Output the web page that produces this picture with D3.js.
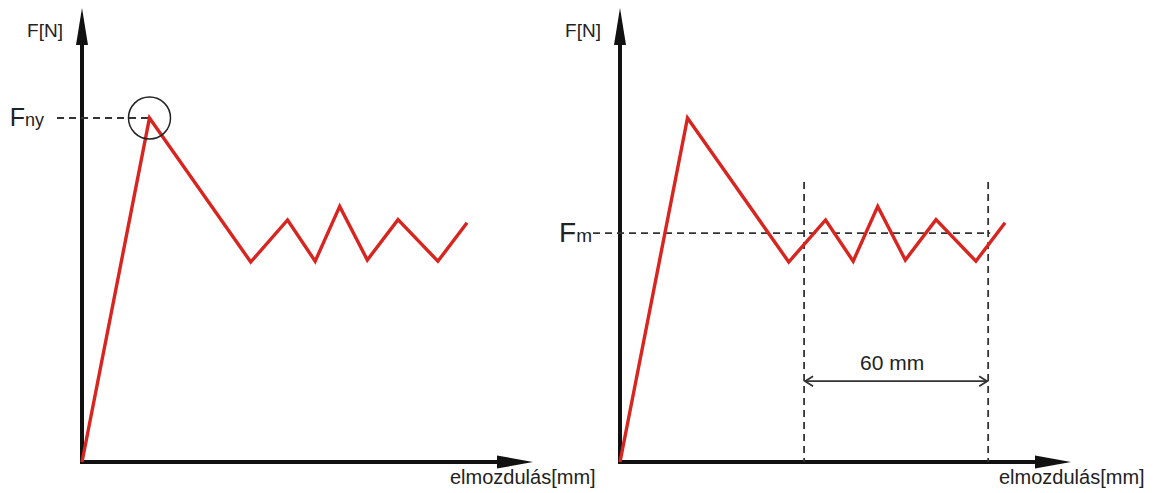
<!DOCTYPE html>
<html>
<head>
<meta charset="utf-8">
<script src="https://cdn.jsdelivr.net/npm/d3@7"></script>
<style>
  html, body { margin: 0; padding: 0; background: #fff; }
  svg { display: block; font-family: "Liberation Sans", Arial, sans-serif; }
</style>
</head>
<body>
<svg id="chart" width="1155" height="493"></svg>
<script>
// Force–displacement curve (same shape in both panels)
const displacement = [0, 22, 55, 67, 76, 84, 93, 103, 116, 125.5]; // mm
const force        = [0, 860, 500, 605, 502, 639, 505, 606, 502, 598]; // N

// Characteristic values
const peakForce = 860;          // F_ny
const peakDisp = 22;
const meanForce = 572;          // F_m
const meanWindow = [60, 120];   // mm, averaging interval
const windowTop = 700;          // N, upper end of the interval markers
const windowArrowLevel = 202;   // N, level of the dimension arrow

// Axis extents and labels
const xMax = 147, yMax = 1135;
const yAxisLabel = "F[N]";
const xAxisLabel = "elmozdulás[mm]";

const svg = d3.select("#chart");
const RED = "#d8251f", INK = "#111", DASH = "#333", TEXT = "#222";

function drawPanel(originX, xLabelStart, opts) {
  const originY = 462;
  const x = d3.scaleLinear().domain([0, xMax]).range([originX, originX + 451]);
  const y = d3.scaleLinear().domain([0, yMax]).range([originY, 8]);
  const g = svg.append("g");

  // axes
  g.append("line").attr("x1", x(0)).attr("x2", x(xMax) - 30)
    .attr("y1", y(0)).attr("y2", y(0)).attr("stroke", INK).attr("stroke-width", 4);
  g.append("line").attr("x1", x(0)).attr("x2", x(0))
    .attr("y1", y(0) + 2).attr("y2", y(yMax) + 30).attr("stroke", INK).attr("stroke-width", 4);
  // arrowheads
  g.append("path")
    .attr("d", `M${x(xMax)},${y(0)} L${x(xMax) - 36},${y(0) - 6.5} L${x(xMax) - 36},${y(0) + 6.5} Z`)
    .attr("fill", INK);
  g.append("path")
    .attr("d", `M${x(0)},${y(yMax)} L${x(0) - 6},${y(yMax) + 37} L${x(0) + 6},${y(yMax) + 37} Z`)
    .attr("fill", INK);

  // axis labels
  g.append("text").attr("x", x(0) - 19).attr("y", 37).attr("text-anchor", "end")
    .attr("font-size", 19).attr("fill", TEXT).text(yAxisLabel);
  g.append("text").attr("x", xLabelStart).attr("y", 484)
    .attr("font-size", 20).attr("fill", TEXT).text(xAxisLabel);

  if (opts.peak) {
    g.append("line").attr("x1", x(0) - 25).attr("x2", x(peakDisp))
      .attr("y1", y(peakForce)).attr("y2", y(peakForce))
      .attr("stroke", DASH).attr("stroke-width", 1.8).attr("stroke-dasharray", "7,5");
    const t = g.append("text").attr("x", x(0) - 38).attr("y", y(peakForce) + 8)
      .attr("text-anchor", "end").attr("fill", TEXT);
    t.append("tspan").attr("font-size", 25).text("F");
    t.append("tspan").attr("font-size", 18).text("ny");
  }

  if (opts.mean) {
    // interval markers
    meanWindow.forEach(v => {
      g.append("line").attr("x1", x(v)).attr("x2", x(v))
        .attr("y1", y(windowTop)).attr("y2", y(0))
        .attr("stroke", DASH).attr("stroke-width", 1.8).attr("stroke-dasharray", "7,5");
    });
    g.append("line").attr("x1", x(0) - 27).attr("x2", x(meanWindow[1]) + 2)
      .attr("y1", y(meanForce)).attr("y2", y(meanForce))
      .attr("stroke", DASH).attr("stroke-width", 1.8).attr("stroke-dasharray", "7,5");
    const t = g.append("text").attr("x", x(0) - 28).attr("y", y(meanForce) + 8.5)
      .attr("text-anchor", "end").attr("fill", TEXT);
    t.append("tspan").attr("font-size", 28).text("F");
    t.append("tspan").attr("font-size", 19).text("m");

    // dimension arrow
    const ya = y(windowArrowLevel), xa = x(meanWindow[0]), xb = x(meanWindow[1]);
    g.append("line").attr("x1", xa + 1).attr("x2", xb - 1).attr("y1", ya).attr("y2", ya)
      .attr("stroke", DASH).attr("stroke-width", 1.8);
    g.append("path")
      .attr("d", `M${xa + 9},${ya - 5} L${xa + 1},${ya} L${xa + 9},${ya + 5} M${xb - 9},${ya - 5} L${xb - 1},${ya} L${xb - 9},${ya + 5}`)
      .attr("fill", "none").attr("stroke", DASH).attr("stroke-width", 1.8);
    g.append("text").attr("x", (xa + xb) / 2 - 4).attr("y", ya - 11)
      .attr("text-anchor", "middle").attr("font-size", 21).attr("fill", TEXT)
      .text(`${meanWindow[1] - meanWindow[0]} mm`);
  }

  // curve
  const line = d3.line().x((d, i) => x(displacement[i])).y(d => y(d));
  g.append("path").datum(force).attr("d", line)
    .attr("fill", "none").attr("stroke", RED).attr("stroke-width", 3.4)
    .attr("stroke-linejoin", "miter");

  if (opts.peak) {
    g.append("circle").attr("cx", x(peakDisp)).attr("cy", y(peakForce)).attr("r", 21)
      .attr("fill", "none").attr("stroke", "#222").attr("stroke-width", 1.5);
  }
}

drawPanel(82, 450, { peak: true });
drawPanel(620, 999, { mean: true });
</script>
</body>
</html>
